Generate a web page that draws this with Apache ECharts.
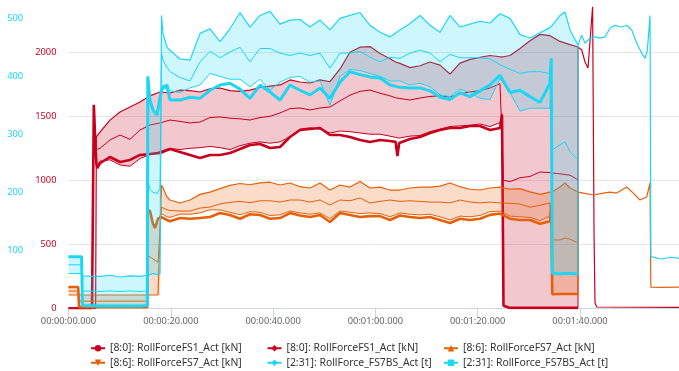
<!DOCTYPE html>
<html>
<head>
<meta charset="utf-8">
<script src="https://cdn.jsdelivr.net/npm/echarts@6.0.0/dist/echarts.min.js"></script>
<style>html,body{margin:0;padding:0;background:#fff;}#c{width:679px;height:371px;}</style>
</head>
<body>
<div id="c"></div>
<script>
// ---------- DATA (time in seconds) ----------
const legendLabels = {
  redA: '[8:0]: RollForceFS1_Act [kN]',
  redB: '[8:0]: RollForceFS1_Act [kN]',
  orangeA: '[8:6]: RollForceFS7_Act [kN]',
  orangeB: '[8:6]: RollForceFS7_Act [kN]',
  cyanA: '[2:31]: RollForce_FS7BS_Act [t]',
  cyanB: '[2:31]: RollForce_FS7BS_Act [t]'
};
const xTicks = [0, 20, 40, 60, 80, 100];
const redTicks = [0, 500, 1000, 1500, 2000];
const cyanTicks = [100, 200, 300, 400, 500];

// FS1 roll force [kN]
const redT = [0, 4.6, 4.95, 5.3, 5.45, 5.65,
  6.16, 8.11, 10.07, 12.02, 13.98, 15.93, 17.89, 19.84, 21.8, 23.75,
  25.71, 27.66, 29.62, 31.57, 33.53, 35.48, 37.44, 39.39, 41.35, 43.3,
  45.26, 47.21, 49.17, 51.12, 53.08, 55.03, 56.99, 58.94, 60.9, 62.85,
  63.95, 64.3, 64.65, 66.76, 68.72, 70.67, 72.63, 74.58, 76.54, 78.49, 80.45, 82.4, 84.36,
  84.75, 85.04, 85.34,
  86.31, 88.27, 90.22, 92.18, 94.13, 96.09, 98.04, 99.61,
  100.33, 100.98, 101.56, 102.07, 102.46, 102.74, 102.93, 103.28, 119.35];
const redA = [0, 0, 1590, 1250, 1130, 1095,
  1135, 1182, 1143, 1159, 1198, 1205, 1213, 1245, 1221, 1198,
  1174, 1198, 1198, 1213, 1245, 1276, 1284, 1252, 1260, 1338,
  1393, 1401, 1409, 1354, 1354, 1338, 1315, 1299, 1315, 1307,
  1300, 1190, 1291, 1323, 1338, 1370, 1393, 1409, 1409, 1424, 1424, 1393, 1409,
  1510, 20, 5,
  3, 3, 3, 3, 3, 3, 3, 3,
  null, null, null, null, null, null, null, null, null];
const redB = [0, 0, 0, 0, 1340, 1350,
  1377, 1470, 1534, 1573, 1612, 1660, 1690, 1682, 1705, 1700,
  1690, 1715, 1721, 1700, 1695, 1705, 1725, 1735, 1745, 1784,
  1768, 1760, 1784, 1770, 1870, 2000, 2040, 2045, 1990, 1950,
  1924, 1924, 1915, 1880, 1895, 1924, 1900, 1830, 1915, 1945, 1960, 1975, 1965,
  1963, 1965, 1970,
  1975, 2030, 2090, 2140, 2130, 2085, 2060, 2041,
  2018, 1924, 1877, 2151, 2355, 590, 41, 10, 8];
const redL = [null, null, null, null, 1150, 1110,
  1150, 1160, 1120, 1110, 1170, 1200, 1225, 1250, 1240, 1250,
  1255, 1265, 1255, 1240, 1270, 1290, 1300, 1290, 1300, 1340,
  1400, 1410, 1400, 1370, 1385, 1380, 1370, 1360, 1360, 1345,
  1335, 1330, 1330, 1345, 1350, 1380, 1400, 1420, 1425, 1430, 1440, 1420, 1450,
  1520, 20, 5,
  3, 3, 3, 3, 3, 3, 3, 3,
  null, null, null, null, null, null, null, null, null];
const redM = [null, null, null, null, 1240, 1225,
  1250, 1315, 1354, 1320, 1393, 1432, 1448, 1471, 1460, 1448,
  1455, 1490, 1495, 1485, 1480, 1471, 1490, 1500, 1526, 1560,
  1565, 1549, 1565, 1573, 1620, 1665, 1695, 1705, 1680, 1660,
  1645, 1643, 1640, 1627, 1643, 1655, 1660, 1651, 1675, 1690, 1700, 1721, 1755,
  1768, 1000, 1003,
  990, 1020, 1030, 1065, 1060, 1050, 1040, 1003,
  null, null, null, null, null, null, null, null, null];

// FS7BS roll force [t]
const cyanT = [0, 2.56, 2.72, 6.16, 8.11, 10.07, 12.02, 13.98, 15.41, 15.5, 15.93, 16.52, 17.3, 17.89, 18.18, 18.48, 19.26,
  19.84, 21.8, 23.75, 25.71, 27.66, 29.62, 31.57, 33.53, 35.48, 37.44,
  39.39, 41.35, 43.3, 45.26, 47.21, 49.17, 51.12, 53.08, 55.03, 56.99,
  58.94, 60.9, 62.85, 64.81, 66.76, 68.72, 70.67, 72.63, 74.58, 76.54,
  78.49, 80.45, 82.4, 84.36, 86.31, 88.27, 90.22, 92.18, 94.13,
  94.37, 94.58, 96.09, 97.07, 98.04, 99.61,
  100.33, 100.98, 101.96, 102.93, 103.91, 104.89, 105.87, 106.84, 108.15, 109.13,
  110.11, 111.09, 112.06, 112.71, 113.16, 113.69, 113.84, 115.83, 117.79, 119.35];
const cyanA = [89, 89, 5, 4, 4, 4, 4, 4, 5, 400, 359, 342, 333, 364, 375, 380, 385,
  359, 359, 364, 362, 376, 385, 388, 378, 362, 385,
  373, 359, 385, 376, 368, 380, 362, 390, 408, 403,
  399, 397, 385, 381, 380, 380, 375, 364, 360, 372,
  365, 375, 385, 402, 372, 376, 365, 355, 388,
  431, 61, 59, 60, 60, 59,
  null, null, null, null, null, null, null, null, null, null,
  null, null, null, null, null, null, null, null, null, null];
const cyanB = [60, 60, 56, 55, 57, 54, 56, 55, 57, 60, 58, 60, 58, 60, 505, 474, 450,
  445, 430, 428, 474, 482, 460, 482, 510, 485, 505,
  512, 490, 497, 498, 485, 497, 480, 500, 505, 510,
  488, 476, 468, 480, 491, 505, 488, 476, 505, 485,
  490, 495, 492, 508, 500, 472, 466, 475, 484,
  486, 488, 505, 511, 480, 454,
  471, 457, 466, 468, 466, 468, 483, 488, 485, 488,
  480, 457, 440, 431, 445, 505, 89, 85, 88, 86];
const cyanL = [89, 89, 5, 5, 5, 5, 5, 5, 5, 380, 359, 342, 333, 364, 380, 385, 375,
  375, 372, 380, 385, 405, 400, 395, 395, 382, 395,
  376, 390, 398, 400, 390, 392, 350, 400, 412, 410,
  405, 400, 392, 392, 385, 388, 382, 368, 365, 378,
  372, 362, 360, 396, 372, 340, 345, 345, 345,
  420, 61, 59, 60, 60, 59,
  null, null, null, null, null, null, null, null, null, null,
  null, null, null, null, null, null, null, null, null, null];
const cyanM = [75, 75, 30, 29, 30, 29, 30, 29, 30, 220, 205, 200, 198, 207, 440, 428, 415,
  408, 398, 392, 425, 443, 432, 442, 450, 425, 448,
  448, 440, 436, 440, 436, 440, 414, 440, 440, 443,
  433, 425, 433, 431, 440, 445, 440, 425, 438, 432,
  432, 432, 430, 420, 412, 405, 408, 408, 405,
  410, 273, 282, 287, 270, 256,
  null, null, null, null, null, null, null, null, null, null,
  null, null, null, null, null, null, null, null, null, null];

// FS7 roll force [kN]
const orangeT = [0, 1.9, 2.05, 6.16, 8.11, 10.07, 12.02, 13.98, 15.41, 15.5, 15.93, 16.52, 16.91, 17.5, 17.89, 18.18, 18.48, 19.26,
  19.84, 21.8, 23.75, 25.71, 27.66, 29.62, 31.57, 33.53, 35.48, 37.44,
  39.39, 41.35, 43.3, 45.26, 47.21, 49.17, 51.12, 53.08, 55.03, 56.99,
  58.94, 60.9, 62.85, 64.81, 66.76, 68.72, 70.67, 72.63, 74.58, 76.54,
  78.49, 80.45, 82.4, 84.36, 86.31, 88.27, 90.22, 92.18, 94.13,
  94.37, 94.58, 96.09, 97.07, 98.04, 99.61,
  100.65, 102.6, 104.56, 105.87, 107.18, 109.13, 110.42, 111.73, 113.04, 113.69, 113.84, 115.64, 119.35];
const orangeA = [166, 166, 8, 8, 8, 8, 8, 8, 8, 768, 760, 660, 627, 700, 713, 713, 713, 690,
  680, 705, 700, 705, 713, 744, 729, 700, 735, 729,
  700, 705, 744, 725, 713, 729, 674, 744, 729, 713,
  720, 720, 690, 725, 713, 705, 713, 690, 666, 700,
  690, 700, 730, 740, 700, 690, 690, 660, 680,
  820, 110, 112, 112, 112, 112,
  null, null, null, null, null, null, null, null, null, null, null, null, null];
const orangeB = [104, 104, 104, 104, 104, 104, 104, 104, 104, 104, 104, 104, 104, 104, 104, 963, 940, 870,
  846, 823, 846, 890, 908, 935, 960, 975, 965, 980,
  985, 963, 979, 950, 940, 979, 924, 963, 947, 990,
  940, 947, 924, 924, 940, 947, 947, 955, 979, 950,
  930, 924, 940, 947, 930, 935, 910, 890, 908,
  908, 910, 948, 979, 940, 908,
  900, 885, 900, 908, 900, 948, 900, 846, 870, 979, 166, 164, 166];
const orangeL = [166, 166, 8, 8, 8, 8, 8, 8, 8, 768, 760, 660, 627, 700, 713, 740, 740, 715,
  710, 735, 735, 745, 770, 768, 750, 730, 755, 750,
  725, 730, 760, 745, 735, 745, 700, 760, 750, 740,
  745, 740, 715, 745, 735, 730, 735, 715, 690, 720,
  715, 725, 755, 760, 720, 715, 710, 685, 720,
  830, 110, 112, 112, 112, 112,
  null, null, null, null, null, null, null, null, null, null, null, null, null];
const orangeM = [135, 135, 56, 56, 56, 56, 56, 56, 56, 420, 400, 385, 370, 360, 355, 790, 780, 770,
  765, 760, 760, 783, 791, 815, 828, 835, 825, 840,
  840, 830, 846, 846, 830, 846, 807, 846, 840, 862,
  823, 835, 846, 835, 840, 835, 830, 830, 823, 846,
  830, 823, 830, 823, 820, 815, 790, 805, 823,
  830, 534, 534, 549, 540, 510,
  null, null, null, null, null, null, null, null, null, null, null, null, null];

// ---------- STYLE ----------
const RED = '#c8001e', ORANGE = '#e6600a', CYAN = '#1cd6f4';
const FONT = 'Noto Sans';

function fmt(v) {
  const ms = Math.round(v * 1000);
  const p = (n, l) => String(n).padStart(l, '0');
  return p(Math.floor(ms / 3600000), 2) + ':' + p(Math.floor(ms / 60000) % 60, 2) + ':' +
    p(Math.floor(ms / 1000) % 60, 2) + '.' + p(ms % 1000, 3);
}
const plain = v => String(Math.round(v));
const pairs = (T, V) => T.map((t, i) => [t, V[i]]).filter(p => p[1] !== null);

function signal(key, T, A, B, L, M, color, fill, yIdx, zf, thick, symA, symB) {
  const out = [];
  out.push({
    type: 'custom', name: key + 'Band', yAxisIndex: yIdx, z: zf, silent: true,
    data: [[T[0], 0]],
    renderItem: function (params, api) {
      const up = [], lo = [];
      for (let i = 0; i < T.length; i++) {
        if (L[i] !== null && B[i] !== null) {
          up.push(api.coord([T[i], B[i]]));
          lo.push(api.coord([T[i], L[i]]));
        }
      }
      return { type: 'polygon', shape: { points: up.concat(lo.reverse()) }, style: { fill: fill } };
    }
  });
  let last = -1;
  for (let i = 0; i < T.length; i++) if (L[i] !== null) last = i;
  const common = { type: 'line', yAxisIndex: yIdx, z: zf + 1, showSymbol: false, silent: true,
    emphasis: { disabled: true }, animation: false };
  out.push(Object.assign({}, common, { name: key + 'L', data: pairs(T, L), lineStyle: { width: 1, color: color }, itemStyle: { color: color }, symbol: 'none' }));
  out.push(Object.assign({}, common, { name: key + 'M', data: pairs(T, M), lineStyle: { width: 1, color: color }, itemStyle: { color: color }, symbol: 'none' }));
  out.push(Object.assign({}, common, { name: key + 'Edge', data: [[T[last], B[last]], [T[last], L[last]]], lineStyle: { width: 1, color: color }, symbol: 'none' }));
  out.push(Object.assign({}, common, { name: key + 'B', data: pairs(T, B), symbol: symB, lineStyle: { width: 1.2, color: color }, itemStyle: { color: color } }));
  out.push(Object.assign({}, common, { name: key + 'A', data: pairs(T, A), symbol: symA, lineStyle: { width: thick, color: color }, itemStyle: { color: color } }));
  return out;
}

const series = [].concat(
  signal('red', redT, redA, redB, redL, redM, RED, 'rgba(200,0,30,0.22)', 0, 2, 2.6, 'circle', 'diamond'),
  signal('orange', orangeT, orangeA, orangeB, orangeL, orangeM, ORANGE, 'rgba(230,96,10,0.22)', 0, 4, 2.6, 'triangle', 'path://M0,0L10,0L5,9Z'),
  signal('cyan', cyanT, cyanA, cyanB, cyanL, cyanM, CYAN, 'rgba(28,214,244,0.22)', 1, 6, 3, 'diamond', 'rect')
);

const chart = echarts.init(document.getElementById('c'), null, { renderer: 'canvas' });
chart.setOption({
  animation: false,
  backgroundColor: '#ffffff',
  grid: { left: 68.5, right: 0, top: 5, bottom: 62.7, containLabel: false },
  xAxis: {
    type: 'value', min: xTicks[0], max: 119.35, interval: xTicks[1] - xTicks[0],
    axisLine: { lineStyle: { color: '#ccd6eb' } },
    axisTick: { show: true, length: 10, lineStyle: { color: '#ccd6eb' } },
    axisLabel: { formatter: fmt, color: '#666666', fontSize: 9.3, fontFamily: FONT, margin: 9, showMaxLabel: false },
    splitLine: { show: false }
  },
  yAxis: [
    {
      type: 'value', min: redTicks[0], max: 2369.5, interval: redTicks[1] - redTicks[0], position: 'left',
      axisLine: { show: false }, axisTick: { show: false },
      axisLabel: { formatter: plain, color: RED, fontSize: 9.3, fontFamily: FONT, margin: 12, showMaxLabel: false },
      splitLine: { show: true, showMaxLine: false, showMinLine: false, lineStyle: { color: '#e6e6e6' } }
    },
    {
      type: 'value', min: 0, max: 523, interval: cyanTicks[1] - cyanTicks[0], position: 'left', offset: 33.4,
      axisLine: { show: false }, axisTick: { show: false },
      axisLabel: { formatter: plain, color: CYAN, fontSize: 9.3, fontFamily: FONT, margin: 12, showMinLabel: false, showMaxLabel: false },
      splitLine: { show: false }
    }
  ],
  legend: {
    data: ['redA', 'redB', 'orangeA', 'orangeB', 'cyanA', 'cyanB'],
    formatter: function (n) { return legendLabels[n]; },
    left: 85, top: 337.5, width: 540, orient: 'horizontal',
    itemWidth: 14, itemHeight: 8, itemGap: 3,
    textStyle: { fontFamily: FONT, fontSize: 10.4, color: '#333333', width: 153.5, lineHeight: 11.5 },
    selectedMode: false
  },
  series: series
});
</script>
</body>
</html>
